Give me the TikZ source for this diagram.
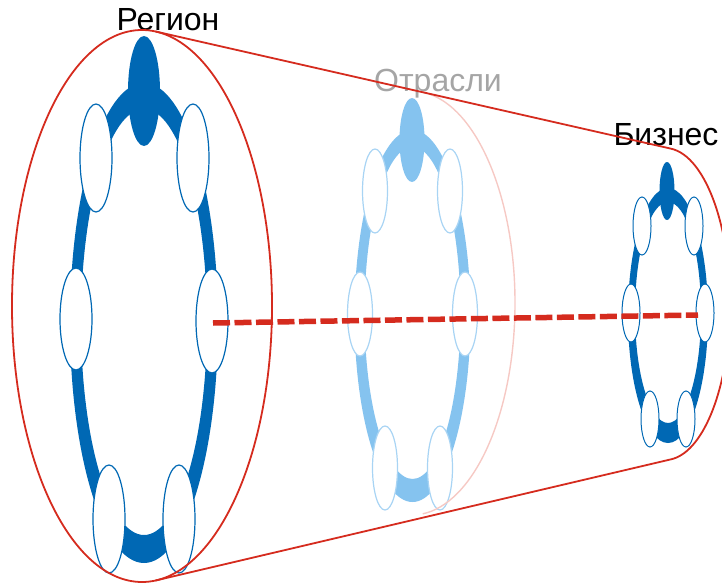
\documentclass[tikz,border=0pt]{standalone}
\usepackage{fontspec}
\setmainfont{Liberation Sans}
\usetikzlibrary{calc}
\definecolor{cdblue}{HTML}{0068B4}
\definecolor{clblue}{HTML}{85C3EF}
\definecolor{cedge}{HTML}{A8D4F4}
\definecolor{cred}{HTML}{D52B1E}
\definecolor{cpink}{HTML}{F6C9C4}
\definecolor{cgray}{HTML}{A5A5A5}

\begin{document}
\begin{tikzpicture}[x=1pt, y=-1pt,
  darkpart/.style={fill=white, draw=cdblue, line width=1.2pt},
  lightpart/.style={fill=white, draw=cedge, line width=1.2pt},
  tagtext/.style={font=\fontsize{32}{32}\selectfont, anchor=base, inner sep=0pt}]
  \useasboundingbox (0,0) rectangle (722,583);

  % Labels
  \node[tagtext] (region) at (168,31) {Регион};
  \node[tagtext, text=cgray] (branch) at (438,92) {Отрасли};
  \node[tagtext] (business) at (666,146) {Бизнес};

  % Region ring
  \fill[cdblue, even odd rule] (144,323) ellipse [x radius=74pt, y radius=240pt]
    (144,322) ellipse [x radius=63pt, y radius=213pt];
  \fill[cdblue] (144,91) ellipse [x radius=16pt, y radius=55pt];
  \foreach \px/\py/\ry in {96/158/54, 193/158/54, 76/319/51, 212/321/52, 109/519/54, 179/519/54}{
    \draw[darkpart] (\px,\py) ellipse [x radius=16pt, y radius=\ry pt];
  }

  % Branch ring
  \fill[clblue, even odd rule] (412.5,316) ellipse [x radius=58pt, y radius=186pt]
    (412.5,313) ellipse [x radius=48pt, y radius=166pt];
  \fill[clblue] (412,140) ellipse [x radius=12.5pt, y radius=42pt];
  \foreach \px/\py in {375/191, 450/191, 360/314, 465/314, 385/468, 440/468}{
    \draw[lightpart] (\px,\py) ellipse [x radius=12.5pt, y radius=42pt];
  }

  % Business ring
  \fill[cdblue, even odd rule] (668,315.5) ellipse [x radius=40pt, y radius=127.5pt]
    (668,312.5) ellipse [x radius=33pt, y radius=110.5pt];
  \fill[cdblue] (667,191) ellipse [x radius=7.5pt, y radius=29pt];
  \foreach \px/\py/\ry in {642/226/29, 694/226/29, 631/313/29, 705/313/29, 650/419/28, 686/419/28}{
    \draw[darkpart, line width=1pt] (\px,\py) ellipse [x radius=9pt, y radius=\ry pt];
  }

  % Cone outline
  \coordinate (lc) at (142,306);
  \coordinate (mc) at (412,303);
  \coordinate (rc) at (665,304);
  \draw[cpink, line width=1.4pt] ($(mc)+(84:103pt and 212pt)$)
    arc[start angle=84, end angle=-84, x radius=103pt, y radius=212pt];
  \draw[cred, line width=1.8pt] (lc) ellipse [x radius=130pt, y radius=276pt];
  \draw[cred, line width=1.8pt] ($(lc)+(84:130pt and 276pt)$) -- ($(rc)+(85:65pt and 156pt)$)
    arc[start angle=85, end angle=-85, x radius=65pt, y radius=156pt]
    -- ($(lc)+(-84:130pt and 276pt)$);

  % Axis
  \coordinate (axl) at (213,323);
  \coordinate (axr) at (698,315);
  \draw[cred, line width=5.5pt, dash pattern=on 17pt off 4.5pt] (axl) -- (axr);
\end{tikzpicture}
\end{document}
